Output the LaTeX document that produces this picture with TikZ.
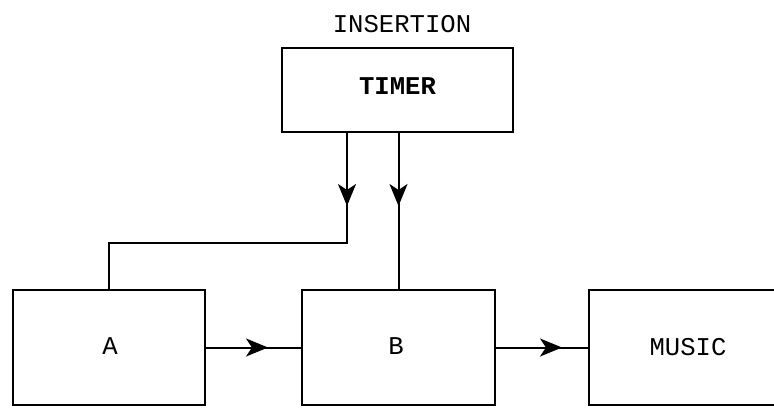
\documentclass[tikz,border=0pt]{standalone}
\usepackage{fontspec}
\setmonofont{Liberation Mono}
\usetikzlibrary{arrows.meta,decorations.markings}

\begin{document}
\begin{tikzpicture}[
  x=0.5pt, y=-0.5pt,
  block/.style={rectangle, draw=black, line width=1pt, inner sep=0pt},
  wire/.style={line width=1pt, draw=black},
  tiplabel/.style={font=\ttfamily\fontsize{12.8}{15}\selectfont},
  arrowat/.style={postaction={decorate}, decoration={markings,
      mark=at position #1 with {\arrow{Stealth[length=11pt,width=9pt,inset=3pt]}}}}
]
  % Bounding box like the scan (pixels)
  \useasboundingbox (0,0) rectangle (774,407);

  % Blocks
  \node[block, minimum width=115.5pt, minimum height=42pt] (timer) at (397.5,90) {};
  \node[tiplabel, font=\ttfamily\bfseries\fontsize{12.8}{15}\selectfont] (timertxt) at (397.5,86) {TIMER};
  \node[tiplabel] (ins) at (402,24) {INSERTION};

  \node[block, minimum width=96pt, minimum height=57.5pt] (a) at (109,347.5) {};
  \node[tiplabel] (atxt) at (110,346) {A};
  \node[block, minimum width=96.5pt, minimum height=57.5pt] (b) at (398.5,347.5) {};
  \node[tiplabel] (btxt) at (396,346) {B};
  \node[block, minimum width=103pt, minimum height=57.5pt] (music) at (692,347.5) {};
  \node[tiplabel] (mtxt) at (688,347) {MUSIC};

  % Leitungen
  \coordinate (t1) at (347,132);
  \coordinate (t2) at (398.5,132);
  \draw[wire, arrowat=37pt] (t1) -- (347,243) -| (a.north);
  \draw[wire, arrowat=37pt] (t2) -- (b.north);
  \draw[wire, arrowat=31pt] (a.east) -- (b.west);
  \draw[wire, arrowat=33pt] (b.east) -- (music.west);
\end{tikzpicture}
\end{document}
